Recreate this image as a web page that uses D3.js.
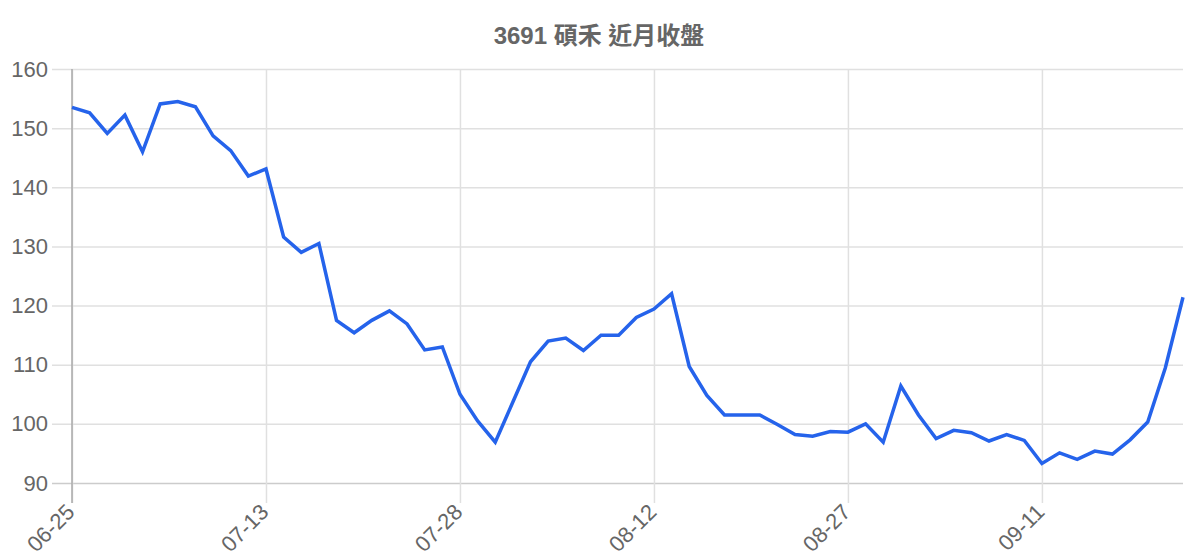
<!DOCTYPE html>
<html>
<head>
<meta charset="utf-8">
<script src="https://cdn.jsdelivr.net/npm/d3@7"></script>
<style>
  body { margin: 0; background: #fff; }
  svg text { font-family: "Liberation Sans", Arial, "Noto Sans CJK TC", sans-serif; }
</style>
</head>
<body>
<script>
// DATA
var title = '3691 碩禾 近月收盤';

var dates = [
  '06-25', '06-26', '06-27', '06-28', '07-01', '07-02', '07-03', '07-04', '07-05', '07-08', '07-10',
  '07-13', '07-14', '07-15', '07-16', '07-17', '07-18', '07-21', '07-22', '07-23', '07-24', '07-25',
  '07-28', '07-29', '07-30', '07-31', '08-01', '08-04', '08-05', '08-06', '08-07', '08-08', '08-11',
  '08-12', '08-13', '08-14', '08-15', '08-18', '08-19', '08-20', '08-21', '08-22', '08-25', '08-26',
  '08-27', '08-28', '08-29', '09-01', '09-02', '09-03', '09-04', '09-05', '09-08', '09-09', '09-10',
  '09-11', '09-12', '09-15', '09-16', '09-17', '09-18', '09-19', '09-22', '09-23'
];

var closes = [
  153.5, 152.6, 149.1, 152.2, 146.0, 154.1, 154.5, 153.6, 148.7, 146.2, 141.9,
  143.1, 131.6, 129.0, 130.5, 117.5, 115.4, 117.5, 119.1, 116.9, 112.5, 113.0,
  105.0, 100.5, 96.9, 103.7, 110.5, 114.0, 114.5, 112.4, 115.0, 115.0, 118.0,
  119.4, 122.0, 109.7, 104.8, 101.5, 101.5, 101.5, 99.9, 98.2, 97.9, 98.7,
  98.6, 100.0, 96.9, 106.4, 101.5, 97.5, 98.9, 98.5, 97.1, 98.2, 97.2,
  93.3, 95.1, 94.0, 95.4, 94.9, 97.3, 100.3, 109.5, 121.4
];

var tickDates = ['06-25', '07-13', '07-28', '08-12', '08-27', '09-11'];
var yTicks = [90, 100, 110, 120, 130, 140, 150, 160];

// LAYOUT
var svgWidth = 1200;
var svgHeight = 560;
var plotLeft = 72, plotRight = 1183, plotTop = 69, plotBottom = 483;
var tickLen = 20;

var svg = d3.select('body')
  .append('svg')
  .attr('width', svgWidth)
  .attr('height', svgHeight);

var x = d3.scalePoint()
  .domain(dates)
  .range([plotLeft, plotRight]);

var y = d3.scaleLinear()
  .domain([90, 160])
  .range([plotBottom, plotTop]);

// horizontal grid + y labels
var yAxis = d3.axisLeft(y)
  .tickValues(yTicks)
  .tickSize(-(plotRight - plotLeft) - tickLen)
  .tickPadding(4)
  .tickFormat(d3.format('d'));

var gy = svg.append('g')
  .attr('transform', 'translate(' + (plotLeft - tickLen) + ',0)')
  .call(yAxis);
gy.select('.domain').remove();
gy.selectAll('line')
  .attr('stroke', function(d) { return d === 90 ? '#cccccc' : '#e0e0e0'; })
  .attr('stroke-width', 1.5);
gy.selectAll('text')
  .attr('fill', '#666')
  .attr('font-size', 22)
  .attr('font-family', '"Liberation Sans", Arial, sans-serif');

// vertical grid + x labels
var xAxis = d3.axisBottom(x)
  .tickValues(tickDates)
  .tickSize(-(plotBottom - plotTop) - tickLen)
  .tickPadding(0)
  .tickFormat(function(d) { return d; });

var gx = svg.append('g')
  .attr('transform', 'translate(0,' + (plotBottom + tickLen) + ')')
  .call(xAxis);
gx.select('.domain').remove();
gx.selectAll('line')
  .attr('stroke', '#e0e0e0')
  .attr('stroke-width', 1.5);
gx.selectAll('text')
  .attr('fill', '#666')
  .attr('font-size', 22)
  .attr('font-family', '"Liberation Sans", Arial, sans-serif')
  .attr('text-anchor', 'end')
  .attr('y', 0)
  .attr('dy', '0.35em')
  .attr('transform', 'translate(-2,5) rotate(-45)');

// left axis line on top of the grid
svg.append('line')
  .attr('x1', plotLeft).attr('x2', plotLeft)
  .attr('y1', plotTop).attr('y2', plotBottom + tickLen)
  .attr('stroke', '#aaaaaa')
  .attr('stroke-width', 1.5);

// price line
var line = d3.line()
  .x(function(d, i) { return x(dates[i]); })
  .y(function(d) { return y(d); });

svg.append('path')
  .datum(closes)
  .attr('d', line)
  .attr('fill', 'none')
  .attr('stroke', '#2563eb')
  .attr('stroke-width', 3.5)
  .attr('stroke-linejoin', 'miter');

// title
svg.append('text')
  .attr('x', 599)
  .attr('y', 44)
  .attr('text-anchor', 'middle')
  .attr('fill', '#666')
  .attr('font-size', 24)
  .attr('font-weight', 'bold')
  .text(title);
</script>
</body>
</html>
